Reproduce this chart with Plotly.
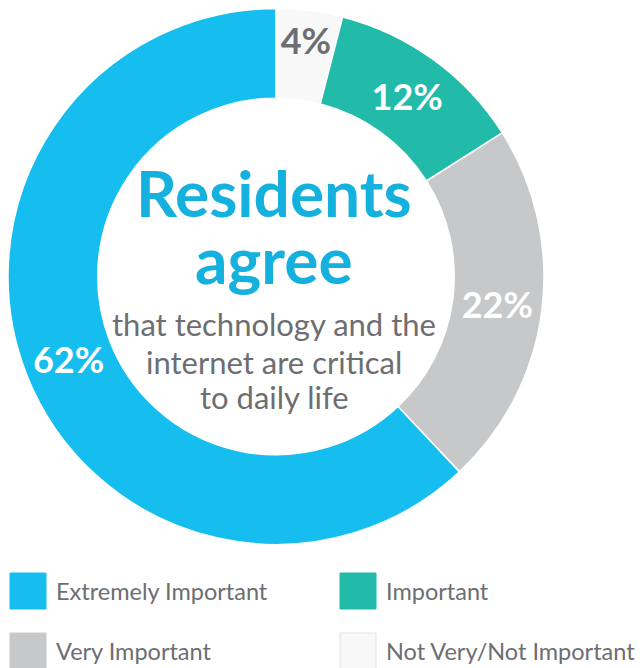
import plotly.graph_objects as go

categories = ["Not Very/Not Important", "Important", "Very Important", "Extremely Important"]
values = [4, 12, 22, 62]
colors = ["#F8F8F8", "#22BBA9", "#C7C8CA", "#16BEF0"]
label_colors = ["#6D6E71", "#FFFFFF", "#FFFFFF", "#FFFFFF"]

legend_order = ["Extremely Important", "Important", "Very Important", "Not Very/Not Important"]

# page body has an 8px margin; figure coordinates are page coordinates minus 8
W, H = 635, 660

def px(x):
    return x / W

def py(y):
    return 1 - y / H

fig = go.Figure()
fig.add_trace(go.Pie(
    labels=categories,
    values=values,
    sort=False,
    direction="clockwise",
    rotation=0,
    hole=0.665,
    marker=dict(colors=colors, line=dict(color="#FFFFFF", width=1.5)),
    texttemplate="%{percent:.0%}",
    textposition="inside",
    insidetextorientation="horizontal",
    textfont=dict(family="Lato", size=36, color=label_colors, weight="bold"),
    showlegend=False,
    hoverinfo="skip",
    domain=dict(x=[0, px(536)], y=[py(537), 1]),
))

cx = 266
fig.add_annotation(x=px(cx), y=py(185), xref="paper", yref="paper",
                   xanchor="center", yanchor="middle",
                   text="<b>Residents</b>", showarrow=False,
                   font=dict(family="Lato", size=64, color="#14B0DE"))
fig.add_annotation(x=px(cx), y=py(251), xref="paper", yref="paper",
                   xanchor="center", yanchor="middle",
                   text="<b>agree</b>", showarrow=False,
                   font=dict(family="Lato", size=64, color="#14B0DE"))
sub_lines = ["that technology and the", "internet are critical", "to daily life"]
sub_y = [316, 354, 389]
for line, y in zip(sub_lines, sub_y):
    fig.add_annotation(x=px(cx), y=py(y), xref="paper", yref="paper",
                       xanchor="center", yanchor="middle",
                       text=line, showarrow=False,
                       font=dict(family="Lato", size=31, color="#6D6E71"))

# legend
pos = {
    "Extremely Important": (2, 565),
    "Important": (332, 565),
    "Very Important": (2, 625),
    "Not Very/Not Important": (332, 625),
}
for name in legend_order:
    x, y = pos[name]
    c = colors[categories.index(name)]
    fig.add_shape(type="rect", xref="paper", yref="paper",
                  x0=px(x), x1=px(x + 36), y0=py(y + 36), y1=py(y),
                  fillcolor=c, line=dict(color="#E2E2E2" if name.startswith("Not") else c, width=1))
    fig.add_annotation(x=px(x + 44), y=py(y + 18), xref="paper", yref="paper",
                       xanchor="left", yanchor="middle", text=name, showarrow=False,
                       font=dict(family="Lato", size=23.5, color="#6D6E71"))

fig.update_layout(
    width=W, height=H,
    margin=dict(l=0, r=0, t=0, b=0),
    paper_bgcolor="#FFFFFF",
    plot_bgcolor="#FFFFFF",
    uniformtext=dict(minsize=36, mode="show"),
)
fig.write_html("out.html")
